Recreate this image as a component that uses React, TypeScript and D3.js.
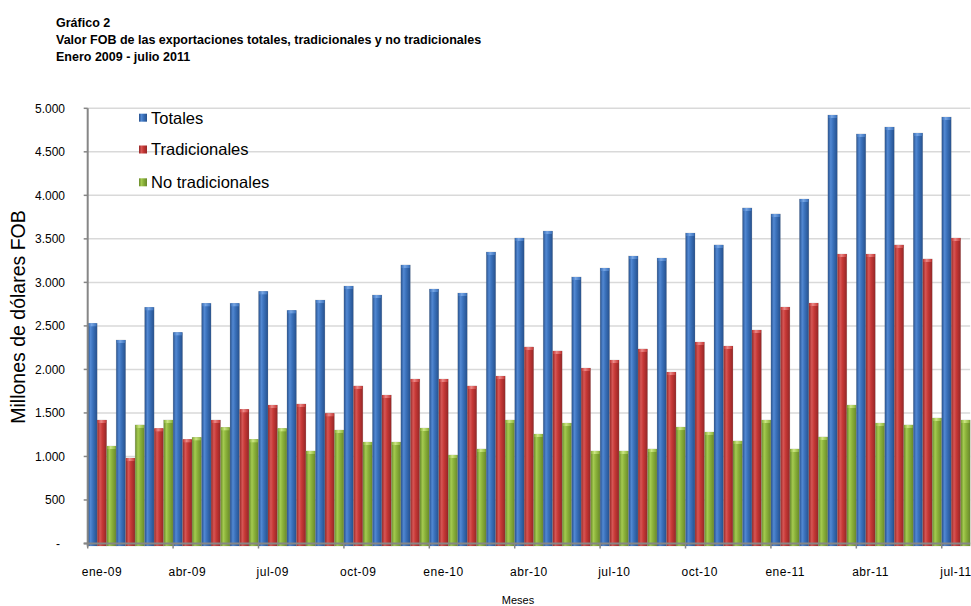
import React from "react";
import * as d3 from "d3";

const months = ["ene","feb","mar","abr","may","jun","jul","ago","sep","oct","nov","dic"];
const categories: string[] = [];
for (let i = 0; i < 31; i++) {
  const yr = 9 + Math.floor(i / 12);
  categories.push(`${months[i % 12]}-${String(yr).padStart(2, "0")}`);
}

const totales = [2530, 2338, 2714, 2426, 2760, 2760, 2897, 2679, 2797, 2958, 2855, 3200, 2924, 2878, 3349, 3510, 3590, 3062, 3165, 3303, 3280, 3567, 3430, 3855, 3786, 3958, 4923, 4705, 4785, 4716, 4900];
const tradicionales = [1419, 982, 1323, 1197, 1419, 1542, 1591, 1603, 1496, 1810, 1706, 1890, 1890, 1810, 1924, 2258, 2212, 2016, 2108, 2235, 1970, 2315, 2269, 2453, 2717, 2763, 3326, 3326, 3430, 3269, 3510];
const noTradicionales = [1120, 1362, 1419, 1220, 1335, 1197, 1323, 1063, 1304, 1166, 1166, 1327, 1017, 1086, 1419, 1258, 1384, 1063, 1063, 1086, 1338, 1281, 1178, 1419, 1086, 1224, 1591, 1384, 1362, 1442, 1419];

const seriesNames = ["Totales", "Tradicionales", "No tradicionales"];
const yTicks = [0, 500, 1000, 1500, 2000, 2500, 3000, 3500, 4000, 4500, 5000];

const palettes = [
  { id: "gBlue", edge: "#26508c", mid: "#3a71bb", light: "#5288d2", cap: "#78a6e4" },
  { id: "gRed", edge: "#932626", mid: "#c63836", light: "#d65654", cap: "#ec8a88" },
  { id: "gGreen", edge: "#68882a", mid: "#8bb23a", light: "#a4ca50", cap: "#cce684" },
];

const W = 971, H = 606;
const x0 = 87.7, x1 = 970.2;
const yBase = 543.5, yTop = 108.3;

const fmt = d3.formatLocale({ decimal: ",", thousands: ".", grouping: [3], currency: ["", ""] }).format(",.0f");

export default function App() {
  const data = [totales, tradicionales, noTradicionales];
  const xBand = d3.scaleBand<string>().domain(categories).range([x0, x1]).paddingInner(0).paddingOuter(0);
  const xInner = d3.scaleBand<string>().domain(seriesNames).range([0, xBand.bandwidth()]).padding(0);
  const y = d3.scaleLinear().domain([0, 5000]).range([yBase, yTop]);
  const font = "'Liberation Sans', Arial, sans-serif";

  return (
    <svg width={W} height={H} style={{ position: "absolute", left: 0, top: 0, background: "#fff" }} fontFamily={font}>
      <defs>
        {palettes.map((p) => (
          <g key={p.id}>
            <linearGradient id={p.id} x1="0" x2="1" y1="0" y2="0">
              <stop offset="0" stopColor={p.edge} />
              <stop offset="0.3" stopColor={p.light} />
              <stop offset="0.55" stopColor={p.mid} />
              <stop offset="1" stopColor={p.edge} />
            </linearGradient>
            <linearGradient id={p.id + "Cap"} x1="0" x2="1" y1="0" y2="0">
              <stop offset="0" stopColor={p.mid} />
              <stop offset="0.4" stopColor={p.cap} />
              <stop offset="1" stopColor={p.mid} />
            </linearGradient>
          </g>
        ))}
      </defs>

      {/* Title */}
      <g fontWeight="bold" fontSize={12.5} fill="#000">
        <text x={56} y={27}>Gráfico 2</text>
        <text x={56} y={44}>Valor FOB de las exportaciones totales, tradicionales y no tradicionales</text>
        <text x={56} y={61}>Enero 2009 - julio 2011</text>
      </g>

      {/* Gridlines */}
      {yTicks.filter((t) => t > 0).map((t) => (
        <line key={t} x1={x0} x2={x1} y1={y(t)} y2={y(t)} stroke="#d9d9d9" strokeWidth={1.5} />
      ))}

      {/* Bars */}
      {categories.map((c, i) => (
        <g key={c}>
          {data.map((s, k) => {
            const bx = (xBand(c) as number) + (xInner(seriesNames[k]) as number);
            const bw = xInner.bandwidth();
            const top = y(s[i]);
            const p = palettes[k];
            return (
              <g key={k}>
                <rect x={bx} y={top} width={bw} height={yBase + 2.5 - top} fill={`url(#${p.id})`} stroke="rgba(140,140,140,0.35)" strokeWidth={0.6} />
                <rect x={bx + 0.5} y={top} width={bw - 1} height={3} fill={`url(#${p.id}Cap)`} />
              </g>
            );
          })}
        </g>
      ))}

      {/* Y axis */}
      <line x1={x0} x2={x0} y1={yTop} y2={yBase + 3} stroke="#868686" strokeWidth={2} />
      {yTicks.map((t) => (
        <line key={t} x1={x0 - 4} x2={x0} y1={y(t)} y2={y(t)} stroke="#868686" strokeWidth={1.5} />
      ))}
      {yTicks.map((t) => (
        <text key={t} x={t === 0 ? 60 : 65} y={y(t)} dy="0.35em" textAnchor="end" fontSize={12} fill="#000">
          {t === 0 ? "-" : fmt(t)}
        </text>
      ))}
      <text transform={`translate(25,${317}) rotate(-90)`} textAnchor="middle" fontSize={19.5} fill="#000">
        Millones de dólares FOB
      </text>

      {/* X axis */}
      <line x1={x0 - 4} x2={x1} y1={yBase} y2={yBase} stroke="#868686" strokeWidth={2} />
      {categories.map((c, i) =>
        i % 3 === 0 ? (
          <g key={c}>
            <line x1={xBand(c) as number} x2={xBand(c) as number} y1={yBase} y2={yBase + 5} stroke="#868686" strokeWidth={1.5} />
            <text x={(xBand(c) as number) + xBand.bandwidth() / 2} y={572} dy="0.35em" textAnchor="middle" fontSize={12} letterSpacing={0.5} fill="#000">
              {c}
            </text>
          </g>
        ) : null
      )}
      <text x={518} y={600} dy="0.35em" textAnchor="middle" fontSize={11} fill="#000">Meses</text>

      {/* Legend */}
      {seriesNames.map((n, k) => {
        const cy = [117.7, 149.5, 182.3][k];
        return (
          <g key={n}>
            <rect x={139} y={cy - 4} width={8} height={8} fill={`url(#${palettes[k].id})`} />
            <text x={151} y={cy} dy="0.36em" fontSize={16.5} fill="#000">{n}</text>
          </g>
        );
      })}
    </svg>
  );
}
